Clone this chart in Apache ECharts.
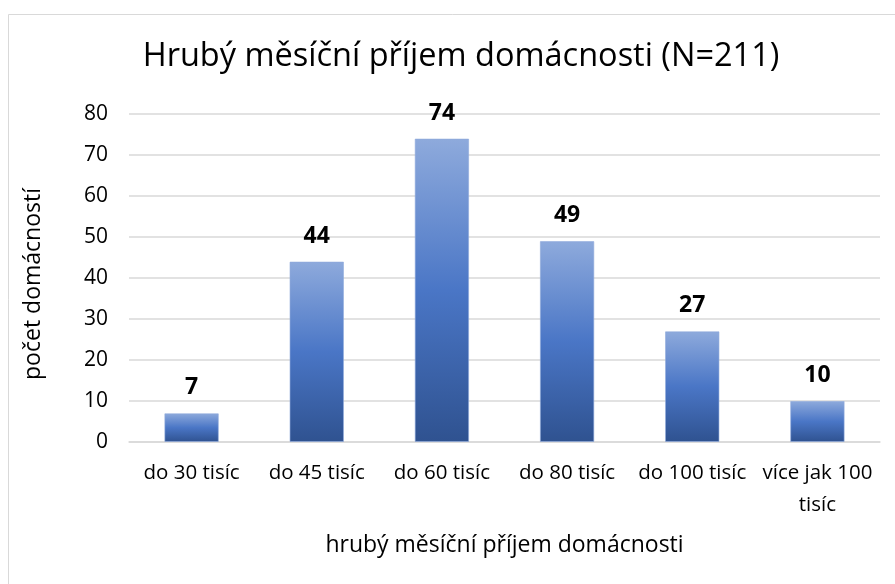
<!DOCTYPE html>
<html>
<head>
<meta charset="utf-8">
<script src="https://cdn.jsdelivr.net/npm/echarts@6/dist/echarts.min.js"></script>
<style>
  html, body { margin: 0; padding: 0; background: #fff; }
  #chart { width: 895px; height: 584px; }
</style>
</head>
<body>
<div id="chart"></div>
<script>
// Household gross monthly income categories and counts
const categories = ['do 30 tisíc', 'do 45 tisíc', 'do 60 tisíc', 'do 80 tisíc', 'do 100 tisíc', 'více jak 100\ntisíc'];
const householdCounts = [7, 44, 74, 49, 27, 10];
const yTicks = { min: 0, max: 80, interval: 10 };

const FONT = '"Open Sans", "Noto Sans", sans-serif';

const chart = echarts.init(document.getElementById('chart'), null, { renderer: 'canvas' });

chart.setOption({
  backgroundColor: '#ffffff',
  animation: false,
  graphic: [{
    type: 'rect',
    shape: { x: 8.5, y: 14.5, width: 1000, height: 1000 },
    style: { fill: 'none', stroke: '#d9d9d9', lineWidth: 1 },
    silent: true
  }],
  title: {
    text: 'Hrubý měsíční příjem domácnosti (N=211)',
    left: 456,
    top: 35,
    textAlign: 'center',
    textStyle: { fontFamily: FONT, fontSize: 32.5, fontWeight: 'normal', color: '#000' }
  },
  grid: { left: 129, right: 15, top: 114, bottom: 142 },
  xAxis: {
    type: 'category',
    data: categories,
    name: 'hrubý měsíční příjem domácnosti',
    nameLocation: 'middle',
    nameGap: 92,
    nameTextStyle: { fontFamily: FONT, fontSize: 23, color: '#000' },
    axisLine: { show: true, lineStyle: { color: '#d9d9d9', width: 1.5 } },
    axisTick: { show: false },
    axisLabel: {
      fontFamily: FONT, fontSize: 20.5, color: '#000', margin: 15,
      interval: 0, lineHeight: 32, verticalAlign: 'top'
    }
  },
  yAxis: {
    type: 'value',
    min: yTicks.min,
    max: yTicks.max,
    interval: yTicks.interval,
    name: 'počet domácností',
    nameLocation: 'middle',
    nameGap: 84,
    nameRotate: 90,
    nameTextStyle: { fontFamily: FONT, fontSize: 23, color: '#000', padding: [0, 12, 0, 0] },
    axisLine: { show: false },
    axisTick: { show: false },
    axisLabel: { fontFamily: FONT, fontSize: 21, color: '#000', margin: 21 },
    splitLine: { lineStyle: { color: '#d9d9d9', width: 1.5 } }
  },
  series: [{
    type: 'bar',
    data: householdCounts,
    barWidth: '43.5%',
    itemStyle: {
      color: new echarts.graphic.LinearGradient(0, 0, 0, 1, [
        { offset: 0, color: '#8eaadc' },
        { offset: 0.5, color: '#4a76c6' },
        { offset: 1, color: '#2f5290' }
      ]),
      borderColor: 'rgba(143,170,220,0.6)',
      borderWidth: 1
    },
    label: {
      show: true,
      position: 'top',
      distance: 14,
      fontFamily: FONT,
      fontSize: 23,
      fontWeight: 'bold',
      color: '#000'
    }
  }]
});
</script>
</body>
</html>
